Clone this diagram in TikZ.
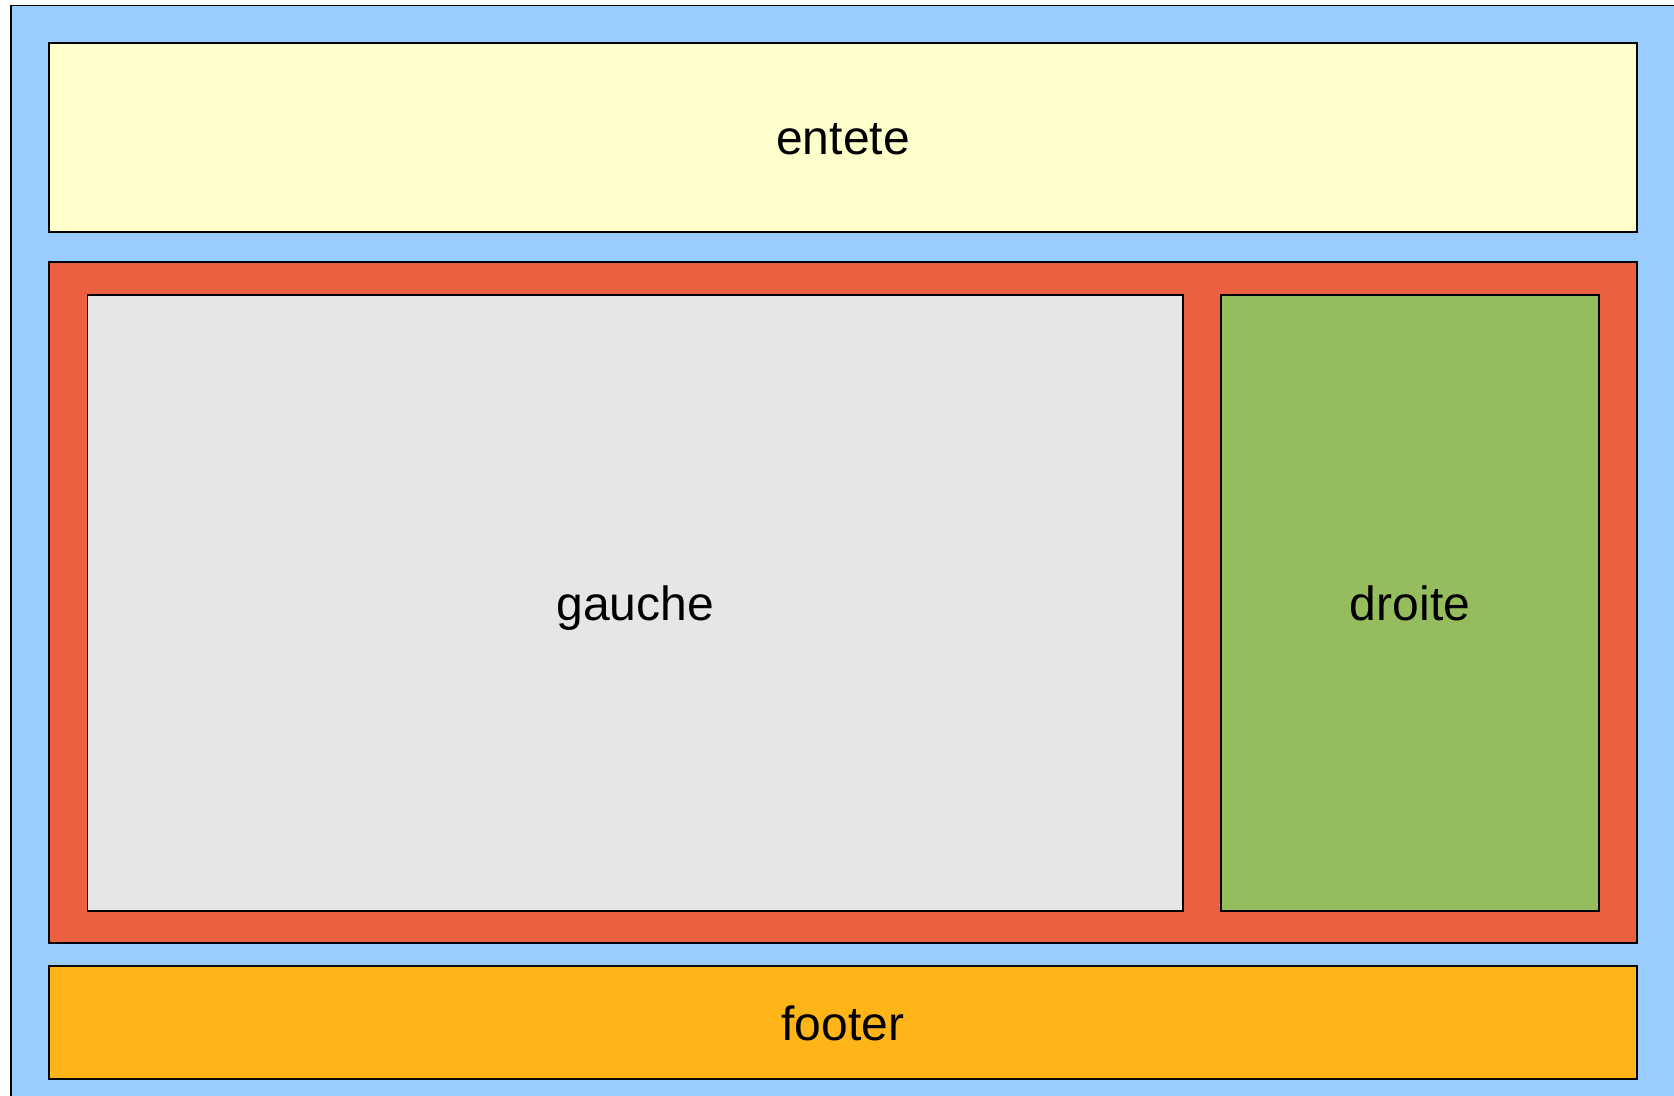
\documentclass[tikz,border=0pt]{standalone}
\usepackage{fontspec}
\setmainfont{Liberation Sans}
\definecolor{bgblue}{RGB}{153,204,255}
\definecolor{hdryellow}{RGB}{255,255,204}
\definecolor{midred}{RGB}{235,97,64}
\definecolor{leftgrey}{RGB}{230,230,230}
\definecolor{rightgreen}{RGB}{149,189,94}
\definecolor{footorange}{RGB}{255,181,24}
\tikzset{
  zone/.style={draw=black, line width=0.6pt, inner sep=0pt, outer sep=0pt,
    font=\fontsize{24}{28}\selectfont, text=black, text height=17.5pt, text depth=0pt},
}
\begin{document}
\begin{tikzpicture}[x=0.5pt,y=-0.5pt]
\useasboundingbox (0,0) rectangle (1674,1096);
\clip (0,0) rectangle (1674,1096);
\fill[white] (0,0) rectangle (1674,1096);
\draw[fill=bgblue, line width=0.6pt] (11,5.5) rectangle (1690,1110);
\node[zone, fill=hdryellow, minimum width=794pt, minimum height=94.5pt] (entete) at (843,137.5) {entete};
\node[zone, fill=midred, minimum width=794pt, minimum height=340.5pt] (centre) at (843,602.5) {};
\node[zone, fill=leftgrey, minimum width=547.75pt, minimum height=308pt] (gauche) at (635.25,603) {gauche};
\node[zone, fill=rightgreen, minimum width=189pt, minimum height=308pt] (droite) at (1410,603) {droite};
\node[zone, fill=footorange, minimum width=794pt, minimum height=56.5pt] (footer) at (843,1022.5) {footer};
\end{tikzpicture}
\end{document}
